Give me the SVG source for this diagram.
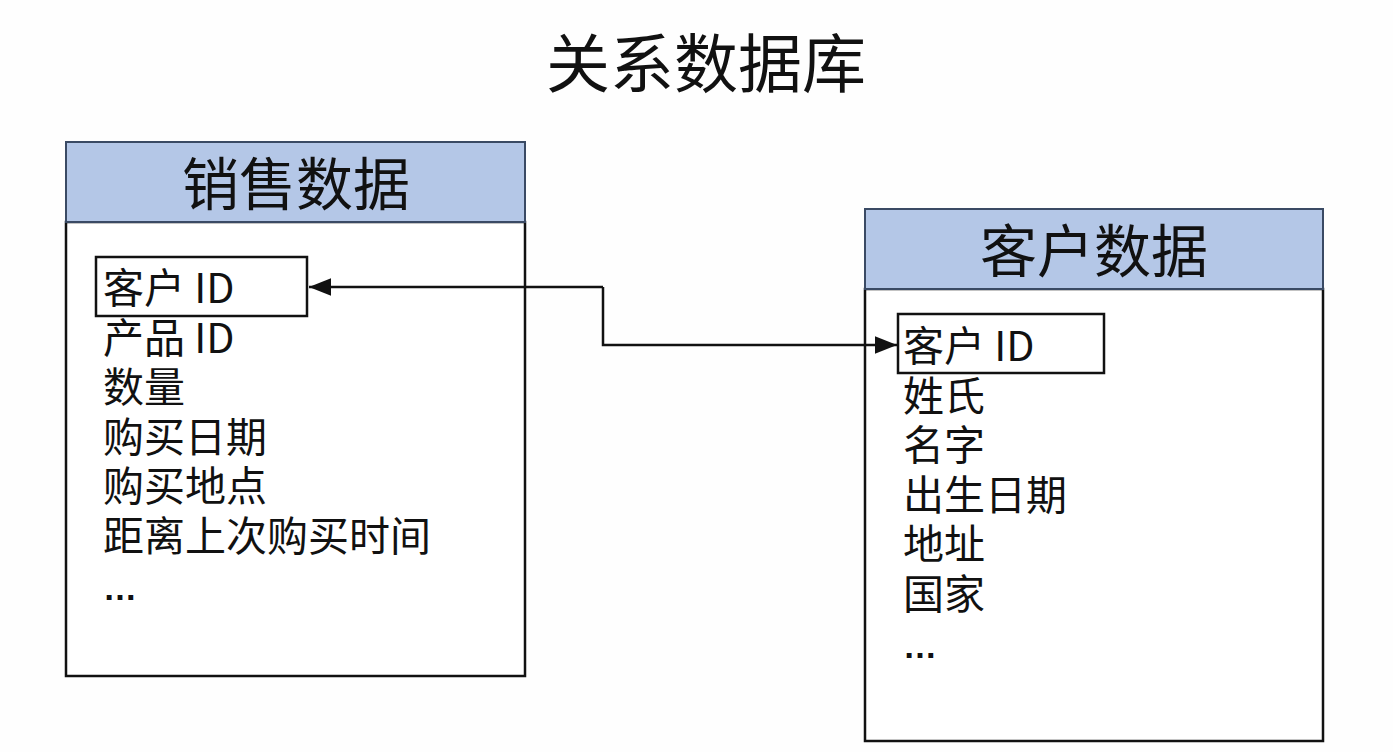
<svg xmlns="http://www.w3.org/2000/svg" width="1393" height="752" viewBox="0 0 1393 752">
<defs>
<style>
text{font-family:"Noto Sans CJK SC","Noto Sans",sans-serif;fill:#111}
.title{font-size:64px}
.hdr{font-size:57px;text-anchor:middle}
.item{font-size:41px}
.dots{font-family:"Liberation Sans",sans-serif;font-size:34px;font-weight:bold}
.head{fill:#b4c7e7;stroke:#3a4a64;stroke-width:2}
.body{fill:#fff;stroke:#111;stroke-width:2.5}
.key{fill:none;stroke:#111;stroke-width:2.5}
.conn{fill:none;stroke:#111;stroke-width:2.5}
</style>
<marker id="arrB" viewBox="0 0 10 10" refX="10" refY="5" markerWidth="22" markerHeight="22" markerUnits="userSpaceOnUse" orient="auto">
<path d="M0,1 L10,5 L0,9 z" fill="#111"/>
</marker>
</defs>
<rect width="1393" height="752" fill="#fefefe"/>
<g id="title"><text class="title" x="706" y="87" text-anchor="middle">关系数据库</text></g>
<g id="sales">
<rect class="body" x="66" y="222" width="459" height="454"/>
<rect class="head" x="66" y="142" width="459" height="80"/>
<text class="hdr" x="296" y="205">销售数据</text>
<rect class="key" x="96" y="257" width="211" height="59"/>
<text class="item" x="103" y="303">客户 ID</text>
<text class="item" x="103" y="353">产品 ID</text>
<text class="item" x="103" y="402">数量</text>
<text class="item" x="103" y="452">购买日期</text>
<text class="item" x="103" y="501">购买地点</text>
<text class="item" x="103" y="551">距离上次购买时间</text>
<text class="dots" x="103" y="600">…</text>
</g>
<g id="customer">
<rect class="body" x="865" y="289" width="458" height="452"/>
<rect class="head" x="865" y="209" width="458" height="80"/>
<text class="hdr" x="1094" y="272">客户数据</text>
<rect class="key" x="898" y="314" width="206" height="59"/>
<text class="item" x="903" y="361">客户 ID</text>
<text class="item" x="903" y="411">姓氏</text>
<text class="item" x="903" y="460">名字</text>
<text class="item" x="903" y="510">出生日期</text>
<text class="item" x="903" y="559">地址</text>
<text class="item" x="903" y="609">国家</text>
<text class="dots" x="903" y="658">…</text>
</g>
<g id="connectors">
<path class="conn" d="M603,287 L309,287" marker-end="url(#arrB)"/>
<path class="conn" d="M603,287 L603,345 L897,345" marker-end="url(#arrB)"/>
</g>
</svg>
